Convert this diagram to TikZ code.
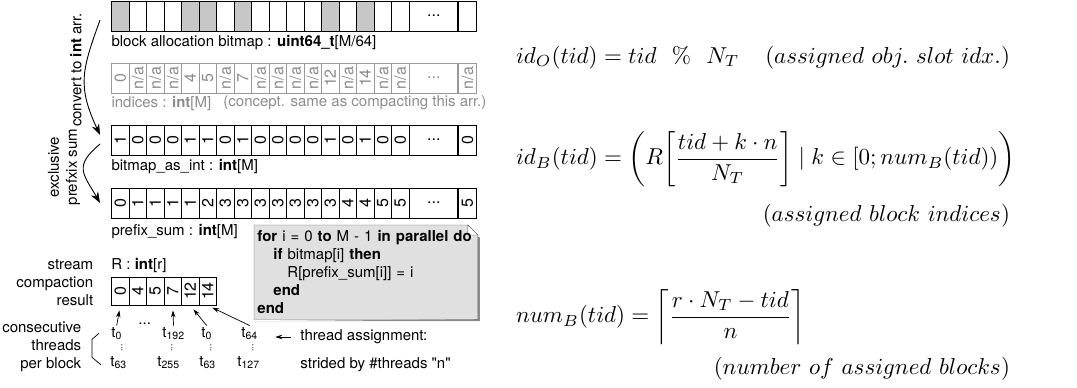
\documentclass[tikz,border=0pt]{standalone}
\usepackage{amsmath}
\usepackage{fontspec}
\newfontfamily\hv{TeX Gyre Heros}
\usetikzlibrary{arrows.meta,backgrounds}

\newcommand{\labelfont}{\hv\fontsize{15}{18}\selectfont}
\newcommand{\cellfont}{\hv\fontsize{16}{16}\selectfont}
\newcommand{\rv}[1]{\rotatebox{90}{#1}}

\begin{document}
\begin{tikzpicture}[x=1pt,y=1pt,line width=0.9pt]
\tikzstyle{cell} = [rectangle, draw, minimum width=17.5pt, minimum height=30pt,
inner sep=0pt, font=\cellfont]
\tikzstyle{dimcell} = [cell, draw=black!40, text=black!45]
\tikzstyle{caption} = [anchor=west, inner sep=0pt, font=\labelfont]
\tikzstyle{tlabel} = [anchor=base west, inner sep=1pt, font=\labelfont]
\tikzstyle{flow} = [draw, -{Stealth[length=11pt,width=8pt]}]
\tikzstyle{ptr} = [draw, line width=0.7pt, -{Stealth[length=7pt,width=4.5pt]}]
\tikzstyle{formula} = [inner sep=0pt, scale=2.3, transform shape]
\tikzstyle{codebox} = [anchor=north west, align=left, text width=217pt,
inner xsep=3pt, inner ysep=5pt, font=\hv\fontsize{15}{18}\selectfont]

\useasboundingbox (0,0) rectangle (1077,-388);

% row 1: block allocation bitmap
\foreach \v [count=\i] in {1,0,0,0,1,1,0,1,0,0,0,0,1,0,1,0,0} {
  \pgfmathtruncatemacro\shade{22*\v}
  \node[cell, fill=black!\shade] (a\i) at (102.75+17.5*\i,-16) {};
}
\node[cell, minimum width=48pt, anchor=west] (a18) at (a17.east) {...};
\node[cell, anchor=west] (a19) at (a18.east) {};
\node[caption] (capA) at ([yshift=-11pt]a1.south west)
  {block allocation bitmap : \textbf{uint64\_t}[M/64]};

% row 2: indices
\foreach \v [count=\i] in {0,n/a,n/a,n/a,4,5,n/a,7,n/a,n/a,n/a,n/a,12,n/a,14,n/a,n/a}
  \node[dimcell] (b\i) at (102.75+17.5*\i,-78) {\rv{\v}};
\node[dimcell, minimum width=48pt, anchor=west] (b18) at (b17.east) {...};
\node[dimcell, anchor=west] (b19) at (b18.east) {\rv{n/a}};
\node[caption, text=black!45] (capB) at ([yshift=-10pt]b1.south west)
  {indices : \textbf{int}[M]};
\node[caption, text=black!45] (noteB) at (223,-103)
  {(concept. same as compacting this arr.)};

% row 3: bitmap as int
\foreach \v [count=\i] in {1,0,0,0,1,1,0,1,0,0,0,0,1,0,1,0,0}
  \node[cell] (c\i) at (102.75+17.5*\i,-140) {\rv{\v}};
\node[cell, minimum width=48pt, anchor=west] (c18) at (c17.east) {...};
\node[cell, anchor=west] (c19) at (c18.east) {\rv{0}};
\node[caption] (capC) at ([yshift=-11pt]c1.south west)
  {bitmap\_as\_int : \textbf{int}[M]};

% row 4: prefix sum
\foreach \v [count=\i] in {0,1,1,1,1,2,3,3,3,3,3,3,3,4,4,5,5}
  \node[cell] (d\i) at (102.75+17.5*\i,-203) {\rv{\v}};
\node[cell, minimum width=48pt, anchor=west] (d18) at (d17.east) {...};
\node[cell, anchor=west] (d19) at (d18.east) {\rv{5}};
\node[caption] (capD) at ([yshift=-13pt]d1.south west)
  {prefix\_sum : \textbf{int}[M]};

% steps on the left
\node[rotate=90, font=\labelfont] (convlbl) at (76,-70) {convert to \textbf{int} arr.};
\node[rotate=90, font=\labelfont, align=center] (scanlbl) at (64,-167)
  {exclusive\\prefxix sum};
\path[flow] ([xshift=-11pt,yshift=-4pt]a1.west) to[out=250,in=115,looseness=1.2]
  ([xshift=-11pt,yshift=5pt]c1.west);
\path[flow] ([xshift=-11pt,yshift=-4pt]c1.west) to[out=220,in=120,looseness=1.5]
  ([xshift=-11pt]d1.west);

% kernel
\node[codebox] (code) at (254,-225) {\textbf{for} i = 0 \textbf{to} M - 1 \textbf{in parallel do}\\
\hspace*{16pt}\textbf{if} bitmap[i] \textbf{then}\\
\hspace*{30pt}R[prefix\_sum[i]] = i\\
\hspace*{16pt}\textbf{end}\\
\textbf{end}};
\begin{scope}[on background layer]
\fill[black!45] ([shift={(2pt,-2pt)}]code.south west) -- ([shift={(2pt,-2pt)}]code.south east)
  -- ([shift={(2pt,-12pt)}]code.north east) -- ([shift={(0pt,-12pt)}]code.north east)
  -- (code.south east) -- cycle;
\draw[black!65, fill=black!12] (code.south west) -- (code.north west)
  -- ([xshift=-10pt]code.north east) -- ([yshift=-10pt]code.north east)
  -- (code.south east) -- cycle;
\draw[black!65, fill=white] ([xshift=-10pt]code.north east) |- ([yshift=-10pt]code.north east)
  -- cycle;
\end{scope}

% result R
\node[caption] (capR) at (111,-265) {R : \textbf{int}[r]};
\foreach \v [count=\i] in {0,4,5,7,12,14}
  \node[cell, minimum height=28pt] (r\i) at (102.75+17.5*\i,-291) {\rv{\v}};
\node[font=\labelfont, align=right, anchor=east] (streamlbl) at (97,-283)
  {stream\\compaction\\result};

% threads
\node[tlabel] (t0a) at (110,-337) {t\textsubscript{0}};
\node[tlabel] (t192) at (161,-337) {t\textsubscript{192}};
\node[tlabel] (t0b) at (200,-337) {t\textsubscript{0}};
\node[tlabel] (t64) at (240,-337) {t\textsubscript{64}};
\node[tlabel] (t63a) at (109,-366) {t\textsubscript{63}};
\node[tlabel] (t255) at (156,-366) {t\textsubscript{255}};
\node[tlabel] (t63b) at (198,-366) {t\textsubscript{63}};
\node[tlabel] (t127) at (236,-366) {t\textsubscript{127}};
\node[tlabel] (tdots) at (137,-324) {...};
\foreach \x [count=\i] in {122,172,211,253}
  \node[inner sep=0pt, font=\hv\fontsize{9}{9}\selectfont] (vd\i) at (\x,-348) {\rv{...}};

\path[ptr, shorten >=5pt] (t0a.north) -- (r1.south);
\path[ptr, shorten >=5pt] (t192.north) -- (r4.south);
\path[ptr, shorten >=5pt] (t0b.north) -- (r5.south);
\path[ptr, shorten >=5pt] (t64.north) -- (r6.south);

\node[font=\labelfont, align=right, anchor=east] (conslbl) at (85,-347)
  {consecutive\\threads\\per block};
\draw[line width=0.7pt] ([xshift=-11pt]t0a.west) -- ++(-7pt,-6pt) -- ++(0,-18pt)
  -- ([xshift=-8pt,yshift=-2.5pt]t63a.west);

\node[caption] (assign1) at (300,-337) {thread assignment:};
\node[caption] (assign2) at (300,-365) {strided by \#threads "n"};
\path[ptr, shorten <=9pt, shorten >=16pt] (assign1.west) -- (assign1.west -| t64.east);

% formulas
\node[formula, anchor=base west] (eqO) at (515,-63) {$id_O(tid) = tid\ \ \%\ \ N_T$};
\node[formula, anchor=base east] (annO) at (1011,-63) {$(assigned\ obj.\ slot\ idx.)$};
\node[formula, anchor=west] (eqB) at (515,-159)
  {$id_B(tid) = \biggl(R\biggl[\dfrac{tid + k\cdot n}{N_T}\biggr] \mid k \in [0; num_B(tid))\biggr)$};
\node[formula, anchor=base east] (annB) at (1011,-221) {$(assigned\ block\ indices)$};
\node[formula, anchor=west] (eqN) at (515,-317)
  {$num_B(tid) = \biggl\lceil\dfrac{r\cdot N_T - tid}{n}\biggr\rceil$};
\node[formula, anchor=base east] (annN) at (1011,-374) {$(number\ of\ assigned\ blocks)$};
\end{tikzpicture}
\end{document}
